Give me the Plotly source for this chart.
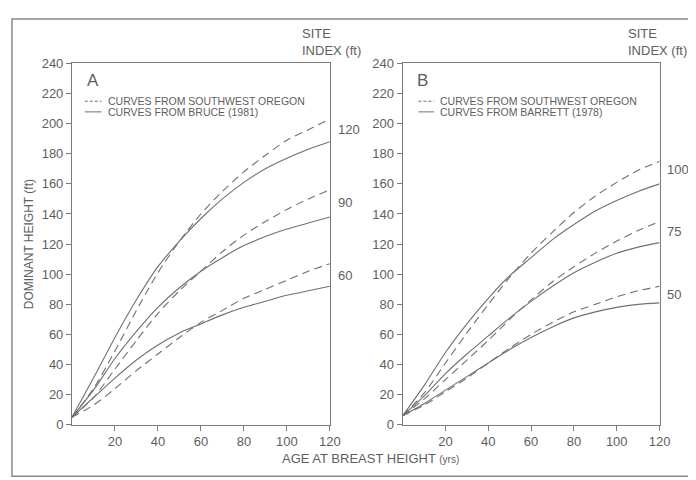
import plotly.graph_objects as go

# ---------------- data ----------------
ages = [0, 10, 20, 30, 40, 50, 60, 70, 80, 90, 100, 110, 120]

# Panel A  (site index 120, 90, 60)
a_sw_120 = [5, 24, 49, 76, 101, 122, 140, 155, 168, 179, 189, 196, 203]
a_br_120 = [5, 31, 58, 83, 105, 122, 137, 150, 161, 170, 177, 183, 188]
a_sw_90 = [5, 18, 37, 56, 74, 89, 102, 115, 126, 135, 143, 150, 156]
a_br_90 = [5, 23, 44, 62, 78, 91, 102, 111, 119, 125, 130, 134, 138]
a_sw_60 = [5, 13, 24, 36, 47, 58, 68, 76, 84, 90, 96, 102, 107]
a_br_60 = [5, 18, 31, 43, 53, 61, 67, 73, 78, 82, 86, 89, 92]

# Panel B  (site index 100, 75, 50)
b_sw_100 = [6, 21, 41, 61, 80, 98, 114, 128, 141, 152, 161, 169, 175]
b_ba_100 = [6, 26, 48, 67, 84, 99, 111, 123, 133, 142, 149, 155, 160]
b_sw_75 = [6, 17, 30, 43, 56, 70, 83, 95, 105, 114, 122, 129, 135]
b_ba_75 = [6, 19, 34, 47, 59, 71, 82, 92, 101, 108, 114, 118, 121]
b_sw_50 = [6, 13, 22, 31, 41, 51, 60, 68, 75, 80, 85, 89, 92]
b_ba_50 = [6, 14, 23, 32, 41, 50, 58, 65, 71, 75, 78, 80, 81]

si_a = ["120", "90", "60"]
si_b = ["100", "75", "50"]
x_ticks = [20, 40, 60, 80, 100, 120]
y_ticks = list(range(0, 241, 20))

legend_a = ["CURVES FROM SOUTHWEST OREGON", "CURVES FROM BRUCE (1981)"]
legend_b = ["CURVES FROM SOUTHWEST OREGON", "CURVES FROM BARRETT (1978)"]

# ---------------- styling ----------------
W, H = 696, 480
LINE = "#707070"
TXT = "#5e5e5e"
FONT = "Liberation Sans"


def px(x):
    return x / W


def py(y):
    return 1 - y / H


fig = go.Figure()


def add_curve(xaxis, yaxis, ys, dash):
    fig.add_trace(go.Scatter(
        x=ages, y=ys, mode="lines", xaxis=xaxis, yaxis=yaxis,
        line=dict(color=LINE, width=1.1, dash=dash, shape="spline", smoothing=0.7),
        showlegend=False, hoverinfo="skip"))


for ys in (a_sw_120, a_sw_90, a_sw_60):
    add_curve("x", "y", ys, "8px,5px")
for ys in (a_br_120, a_br_90, a_br_60):
    add_curve("x", "y", ys, "solid")
for ys in (b_sw_100, b_sw_75, b_sw_50):
    add_curve("x2", "y2", ys, "8px,5px")
for ys in (b_ba_100, b_ba_75, b_ba_50):
    add_curve("x2", "y2", ys, "solid")

ydom = [py(423), py(50)]
axis_common = dict(
    showline=True, linecolor="#7a7a7a", linewidth=1, mirror=True,
    showgrid=False, zeroline=False, ticks="outside", ticklen=5,
    tickcolor="#7a7a7a", tickfont=dict(family=FONT, size=13, color=TXT),
)

fig.update_layout(
    width=W, height=H,
    margin=dict(l=0, r=0, t=0, b=0),
    paper_bgcolor="white", plot_bgcolor="white",
    showlegend=False,
    xaxis=dict(domain=[px(65), px(327)], range=[0, 120], tickvals=x_ticks,
               anchor="y", **axis_common),
    yaxis=dict(domain=ydom, range=[0, 240], tickvals=y_ticks, anchor="x",
               **axis_common),
    xaxis2=dict(domain=[px(401), px(662)], range=[0, 120], tickvals=x_ticks,
                anchor="y2", **axis_common),
    yaxis2=dict(domain=ydom, range=[0, 240], tickvals=y_ticks, anchor="x2",
                **axis_common),
)

ann = []
# Site index labels at curve ends
site_a_y = [118, 194, 269]
for lab, yy in zip(si_a, site_a_y):
    ann.append(dict(x=px(333), y=py(yy), xref="paper", yref="paper", text=lab,
                    showarrow=False, xanchor="left", yanchor="middle",
                    font=dict(family=FONT, size=13, color=TXT)))
site_b_y = [160, 223, 289]
for lab, yy in zip(si_b, site_b_y):
    ann.append(dict(x=px(668), y=py(yy), xref="paper", yref="paper", text=lab,
                    showarrow=False, xanchor="left", yanchor="middle",
                    font=dict(family=FONT, size=13, color=TXT)))

# SITE INDEX headers
for xx in (297, 628):
    ann.append(dict(x=px(xx), y=py(28), xref="paper", yref="paper",
                    text="SITE<br>INDEX (ft)", showarrow=False, align="left",
                    xanchor="left", yanchor="middle",
                    font=dict(family=FONT, size=13, color=TXT)))

# Panel letters
ann.append(dict(x=px(78), y=py(68), xref="paper", yref="paper", text="A",
                showarrow=False, xanchor="left", yanchor="middle",
                font=dict(family=FONT, size=17, color=TXT)))
ann.append(dict(x=px(414), y=py(68), xref="paper", yref="paper", text="B",
                showarrow=False, xanchor="left", yanchor="middle",
                font=dict(family=FONT, size=17, color=TXT)))

shapes = []
# legends
for (x0, x1, xt, labels) in ((78, 95, 100, legend_a), (417, 433, 437, legend_b)):
    for lab, yy, dash in zip(labels, (89, 100), ("3px,2px", "solid")):
        shapes.append(dict(type="line", xref="paper", yref="paper",
                           x0=px(x0), x1=px(x1), y0=py(yy), y1=py(yy),
                           line=dict(color=LINE, width=1, dash=dash)))
        ann.append(dict(x=px(xt), y=py(yy), xref="paper", yref="paper", text=lab,
                        showarrow=False, xanchor="left", yanchor="middle",
                        font=dict(family=FONT, size=10.5, color=TXT)))

# axis titles
ann.append(dict(x=px(21), y=py(237), xref="paper", yref="paper",
                text="DOMINANT HEIGHT (ft)", textangle=-90, showarrow=False,
                xanchor="center", yanchor="middle",
                font=dict(family=FONT, size=12, color=TXT)))
ann.append(dict(x=px(368), y=py(458), xref="paper", yref="paper",
                text="AGE AT BREAST HEIGHT <span style='font-size:10px'>(yrs)</span>",
                showarrow=False, xanchor="center", yanchor="middle",
                font=dict(family=FONT, size=13, color=TXT)))

# outer border
shapes.append(dict(type="rect", xref="paper", yref="paper",
                   x0=px(4), x1=px(692), y0=py(476), y1=py(4),
                   line=dict(color="#8a8a8a", width=1.5)))

fig.update_layout(annotations=ann, shapes=shapes)

fig.write_html("out.html")
